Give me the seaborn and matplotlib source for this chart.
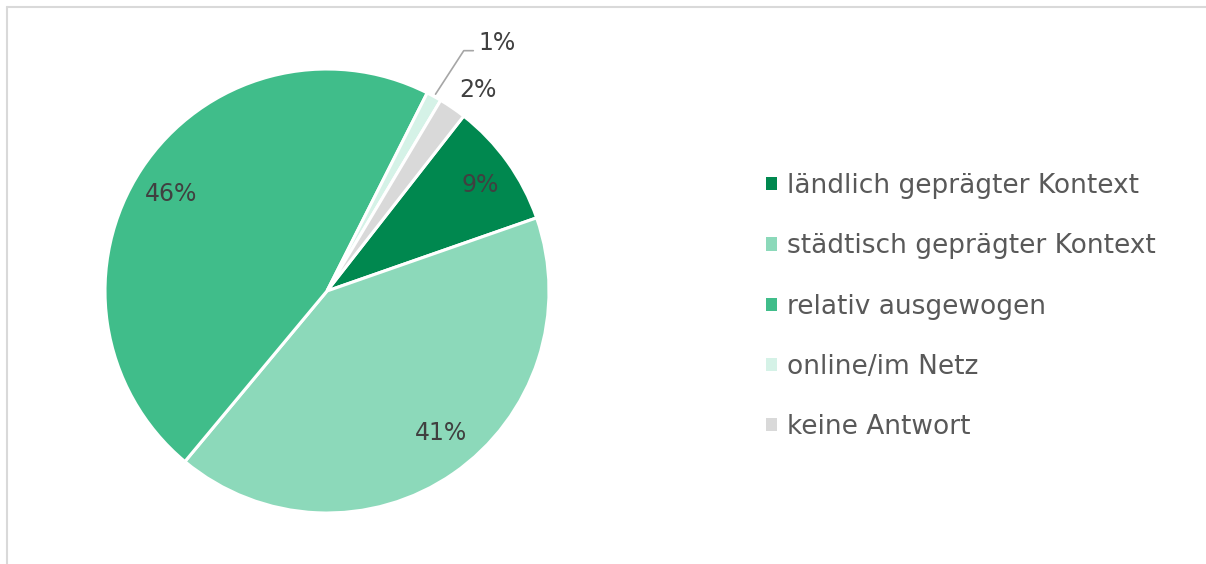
import numpy as np
import matplotlib
matplotlib.use("Agg")
import matplotlib.pyplot as plt
from matplotlib.patches import Patch
from matplotlib.lines import Line2D
import seaborn as sns

# data
categories = ["ländlich geprägter Kontext", "städtisch geprägter Kontext",
              "relativ ausgewogen", "online/im Netz", "keine Antwort"]
shares = [9.1, 41.4, 46.4, 1.1, 2.0]
colors = ["#00884F", "#8CD9BA", "#40BD8A", "#D5F2E7", "#D9D9D9"]

sns.set_style("white")
plt.rcParams["font.family"] = ["DejaVu Sans"]
lab_col = "#404040"
leg_col = "#595959"

fig = plt.figure(figsize=(12.06, 5.64), dpi=100)
W, H = 1206, 564

# pie centre (327, 291) px, radius 222 px
cx, cy, r = 327, 291, 222
ax = fig.add_axes([(cx - r) / W, (H - cy - r) / H, 2 * r / W, 2 * r / H])

wedges, _ = ax.pie(shares, colors=colors, startangle=52, counterclock=False,
                   radius=1, wedgeprops=dict(edgecolor="white", linewidth=2.2))
ax.set_xlim(-1, 1)
ax.set_ylim(-1, 1)
ax.axis("off")

# percent labels: radius and small angle shift (deg) per slice
label_r = [0.84, 0.82, 0.825, None, 1.135]
label_shift = [-1, 4, 1.5, 0, -2.5]
for w, v, lr, sh in zip(wedges, shares, label_r, label_shift):
    mid = np.deg2rad((w.theta1 + w.theta2) / 2 + sh)
    if lr is None:
        # small slice with a leader line
        xy = (np.cos(mid), np.sin(mid))
        ax.annotate(f"{round(v)}%", xy=xy, xytext=(0.68, 1.115),
                    ha="left", va="center", fontsize=17, color=lab_col,
                    annotation_clip=False,
                    arrowprops=dict(arrowstyle="-", color="#A6A6A6", lw=1.2,
                                    shrinkA=1, shrinkB=2, relpos=(0, 0.2),
                                    connectionstyle="angle,angleA=0,angleB=57,rad=0"))
        continue
    ax.text(np.cos(mid) * lr, np.sin(mid) * lr, f"{round(v)}%",
            ha="center", va="center", fontsize=17, color=lab_col)

# legend
handles = [Patch(facecolor=c, edgecolor="none") for c in colors]
fig.legend(handles, categories, loc="upper left",
           bbox_to_anchor=(766 / W, 1 - 173 / H), frameon=False,
           fontsize=19, labelcolor=leg_col, handlelength=0.4,
           handleheight=0.4, handletextpad=0.4, labelspacing=1.3,
           borderaxespad=0, borderpad=0)

# chart frame (top and left only visible)
fig.add_artist(Line2D([6.5 / W, 1], [1 - 6.5 / H, 1 - 6.5 / H],
                      color="#D9D9D9", lw=1.5))
fig.add_artist(Line2D([6.5 / W, 6.5 / W], [0, 1 - 6.5 / H],
                      color="#D9D9D9", lw=1.5))

fig.savefig("out.png", dpi=100)
